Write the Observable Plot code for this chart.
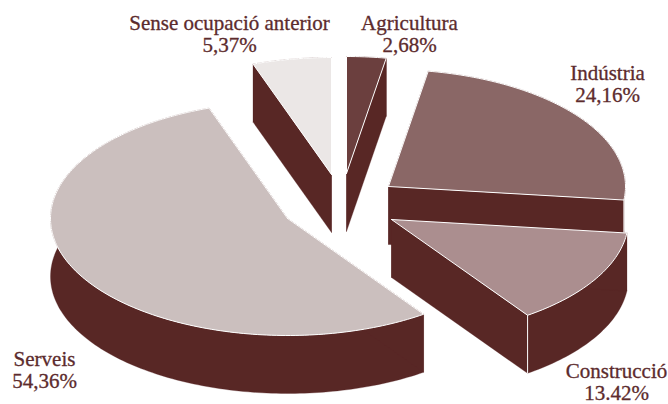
<!DOCTYPE html>
<html>
<head>
<meta charset="utf-8">
<style>html,body{margin:0;padding:0;background:#fff}svg{display:block}</style>
<script src="https://cdn.jsdelivr.net/npm/d3@7"></script>
<script src="https://cdn.jsdelivr.net/npm/@observablehq/plot@0.6"></script>
</head>
<body>
<div id="chart"></div>
<script>
const categories = ["Agricultura", "Indústria", "Construcció", "Serveis", "Sense ocupació anterior"];
const shares = [2.68, 24.16, 13.42, 54.36, 5.37];
const shareLabels = ["2,68%", "24,16%", "13.42%", "54,36%", "5,37%"];
const sliceColors = ["#6b3f3e", "#8a6766", "#ab8e8f", "#cbbfbe", "#ebe7e6"];
const sideColor = "#582725";
const textColor = "#5c2b2d";

// Layout of the exploded, tilted pie
const tipX = [346, 388, 391, 287, 331];
const tipY = [173, 186, 219, 218, 174];
const labelX = [409, 607, 616, 44, 229];
const labelY = [33, 83, 381, 369, 33];
const rx = 237, ry = 117, depth = 58;
const drawOrder = [4, 0, 1, 2, 3];

const total = d3.sum(shares);
const rim = (i, t, dz = 0) => ({
  x: tipX[i] + rx * Math.sin(t),
  y: tipY[i] - ry * Math.cos(t) + dz
});

let cum = 0;
const spans = shares.map(v => {
  const a0 = cum / total * 2 * Math.PI;
  cum += v;
  return [a0, cum / total * 2 * Math.PI];
});

function polygon(rows, id, pts, fill) {
  pts.forEach((p, k) => rows.push({...p, id, fill, k}));
}

const marks = [];
for (const i of drawOrder) {
  const [a0, a1] = spans[i];
  const n = Math.max(4, Math.ceil((a1 - a0) / 0.02));
  const ts = d3.range(n + 1).map(k => a0 + (a1 - a0) * k / n);
  const tip = {x: tipX[i], y: tipY[i]};
  const tipLow = {x: tipX[i], y: tipY[i] + depth};
  const walls = [];
  polygon(walls, "arc", [...ts.map(t => rim(i, t)), ...ts.slice().reverse().map(t => rim(i, t, depth))], sideColor);
  polygon(walls, "start", [tip, rim(i, a0), rim(i, a0, depth), tipLow, tip], sideColor);
  polygon(walls, "end", [tip, rim(i, a1), rim(i, a1, depth), tipLow, tip], sideColor);
  marks.push(Plot.line(walls, {x: "x", y: "y", z: "id", fill: "fill", stroke: sideColor, strokeWidth: 0.3, curve: "linear"}));
  // white corner where the closing radial wall meets the outer wall, on the near side
  if (Math.cos(a1) < 0) {
    marks.push(Plot.line([rim(i, a1), rim(i, a1, depth)], {x: "x", y: "y", stroke: "#ffffff", strokeWidth: 1}));
  }
  const top = [];
  polygon(top, "top", [tip, ...ts.map(t => rim(i, t)), tip], sliceColors[i]);
  marks.push(Plot.line(top, {x: "x", y: "y", z: "id", fill: "fill", stroke: "#ffffff", strokeWidth: 1, curve: "linear", strokeLinejoin: "miter"}));
}

const labels = categories.map((c, i) => ({
  text: `${c}\n${shareLabels[i]}`, x: labelX[i], y: labelY[i]
}));
marks.push(Plot.text(labels, {
  x: "x", y: "y", text: "text", fill: textColor, stroke: textColor, strokeWidth: 0.3,
  fontFamily: "Liberation Serif", fontSize: 21, lineHeight: 1.06, textAnchor: "middle"
}));

const chart = Plot.plot({
  width: 668,
  height: 404,
  margin: 0,
  x: {domain: [0, 668], range: [0, 668], axis: null},
  y: {domain: [0, 404], range: [0, 404], axis: null},
  marks
});
document.getElementById("chart").append(chart);
</script>
</body>
</html>
